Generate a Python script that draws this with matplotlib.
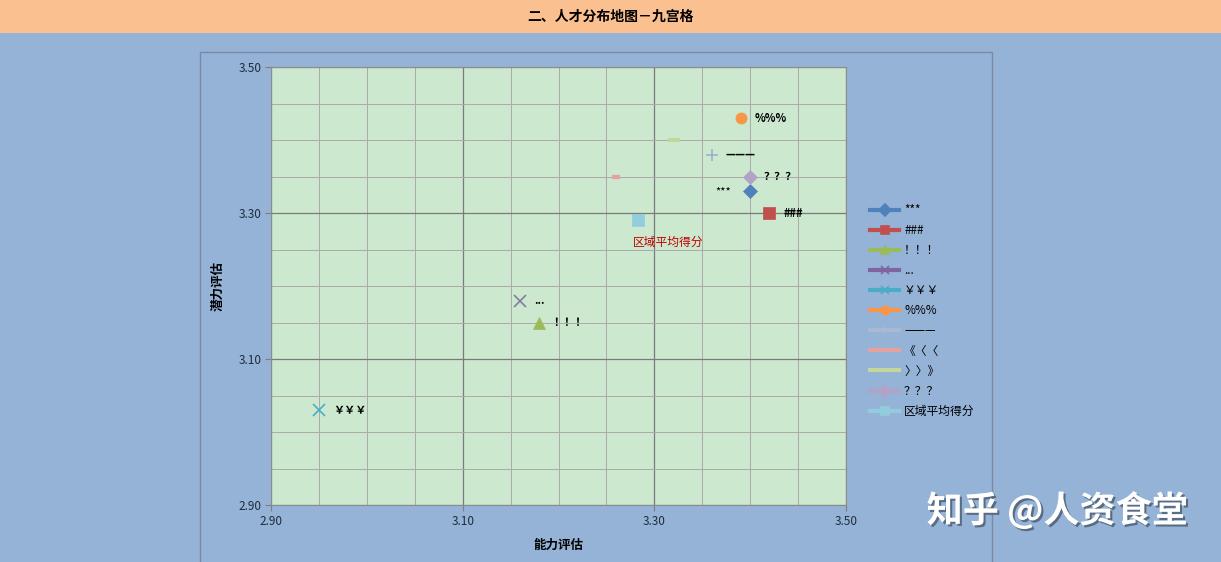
import matplotlib.pyplot as plt
import matplotlib.patheffects as pe
from matplotlib.lines import Line2D
from matplotlib.patches import Rectangle
from matplotlib.ticker import MultipleLocator

plt.rcParams['font.family'] = ['Noto Sans CJK SC', 'DejaVu Sans']

# data
names = ["***", "###", "！！！", "...", "￥￥￥", "%%%", "———", "《〈〈", "〉〉》", "？？？", "区域平均得分"]
ability = [3.40, 3.42, 3.18, 3.16, 2.95, 3.39, 3.36, 3.26, 3.32, 3.40, 3.283]
potential = [3.33, 3.30, 3.15, 3.18, 3.03, 3.43, 3.38, 3.35, 3.40, 3.35, 3.29]
show_label = [True, True, True, True, True, True, True, False, False, True, True]
ticks = [2.90, 3.10, 3.30, 3.50]

colors = ["#4F81BD", "#C0504D", "#9BBB59", "#7F7F9F", "#4BACC6", "#F79646",
          "#9DB0CF", "#E6A19E", "#C3D69B", "#B3A2C7", "#93CDDD"]
leg_colors = ["#4F81BD", "#C0504D", "#9BBB59", "#8064A2", "#4BACC6", "#F79646",
              "#A9B9D4", "#E6A19E", "#C3D69B", "#B3A2C7", "#93CDDD"]
markers = ["D", "s", "^", "x", "x", "o", "+", "_", "_", "D", "s"]
sizes = [7, 8, 8, 8, 8, 8, 9, 6, 9, 7, 8]

bg = "#95B3D7"
fig = plt.figure(figsize=(12.21, 5.62), dpi=100, facecolor=bg)

# title band
fig.patches.append(Rectangle((0, 1 - 33 / 562), 1, 33 / 562, transform=fig.transFigure,
                             facecolor="#FAC08F", edgecolor="none", zorder=-2))
fig.text(0.5, 1 - 17 / 562, "二、人才分布地图－九宫格", ha="center", va="center",
         fontsize=10, fontweight="bold")

# chart area frame
fig.patches.append(Rectangle((200 / 1221, -0.01), 792 / 1221, 1.01 - 52 / 562,
                             transform=fig.transFigure, facecolor=bg,
                             edgecolor="#7A8AA0", lw=1, zorder=-2))

ax = fig.add_axes([271 / 1221, 1 - 505 / 562, 575 / 1221, 438 / 562])
ax.set_facecolor("#CCE8CF")
ax.set_xlim(ticks[0], ticks[-1])
ax.set_ylim(ticks[0], ticks[-1])
ax.set_xticks(ticks)
ax.set_yticks(ticks)
ax.xaxis.set_minor_locator(MultipleLocator(0.05))
ax.yaxis.set_minor_locator(MultipleLocator(0.05))
ax.grid(which="major", color="#7A7A7A", lw=0.9)
ax.grid(which="minor", color="#A8ABA8", lw=0.7)
ax.set_axisbelow(True)
ax.tick_params(which="minor", length=0)
ax.tick_params(which="major", length=4, labelsize=8.5, color="#7F7F7F", pad=3,
               labelcolor="#1F2D3D")
for s in ax.spines.values():
    s.set_color("#8C8C8C")
ax.xaxis.set_major_formatter(lambda v, p: f"{v:.2f}")
ax.yaxis.set_major_formatter(lambda v, p: f"{v:.2f}")
ax.set_xlabel("能力评估", fontsize=9, fontweight="bold", labelpad=8)
ax.set_ylabel("潜力评估", fontsize=9, fontweight="bold", labelpad=10)

for i, n in enumerate(names):
    mew = 1.2 if markers[i] in ("x", "+") else 0.5
    if markers[i] == "_":
        mew = 3
    ax.plot(ability[i], potential[i], linestyle="none", marker=markers[i],
            markersize=sizes[i], color=colors[i], markeredgewidth=mew)
    if not show_label[i]:
        continue
    if n == "***":
        ax.annotate(n, (ability[i], potential[i]), xytext=(-25, 0), textcoords="offset points",
                    ha="left", va="center", fontsize=8)
    elif n == "区域平均得分":
        ax.annotate(n, (ability[i], potential[i]), xytext=(-4, -16), textcoords="offset points",
                    ha="left", va="center", fontsize=8.5, color="#C00000")
    else:
        ax.annotate(n, (ability[i], potential[i]), xytext=(10, 0), textcoords="offset points",
                    ha="left", va="center", fontsize=8, fontweight="bold")

handles = []
for i, n in enumerate(names):
    m = markers[i] if markers[i] != "_" else None
    handles.append(Line2D([], [], color=leg_colors[i], lw=3, marker=m,
                          markersize=6, markeredgewidth=1.2))
fig.legend(handles, names, loc="upper left", bbox_to_anchor=(864 / 1221, 1 - 198 / 562),
           frameon=False, fontsize=8.5, handlelength=2.5, labelspacing=0.6,
           handletextpad=0.4, borderpad=0)

fig.text(1188 / 1221, 1 - 511 / 562, "知乎 @人资食堂", ha="right", va="center",
         fontsize=26, color="white", fontweight="bold",
         path_effects=[pe.withSimplePatchShadow(offset=(1.5, -1.5), shadow_rgbFace="#4A5A70", alpha=0.8)])

fig.savefig("out.png", dpi=100, facecolor=bg)
